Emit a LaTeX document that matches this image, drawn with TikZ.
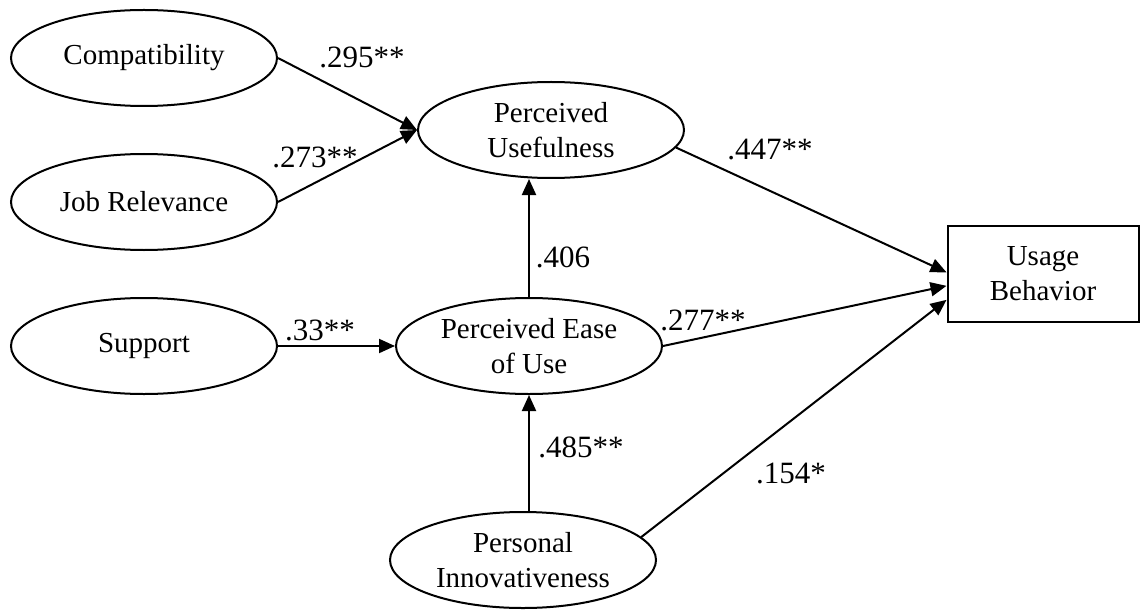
\documentclass[tikz,border=0pt]{standalone}
\usepackage{fontspec}
\setmainfont{Liberation Serif}
\usepackage{tikz}
\usetikzlibrary{shapes,arrows.meta}
\newcommand{\boxfont}{\fontsize{14.5}{17.5}\selectfont}
\newcommand{\pathfont}{\fontsize{15.5}{18}\selectfont}
\tikzstyle{latent} = [ellipse, draw, line width=1pt, minimum width=133pt,
    minimum height=48pt, inner sep=0pt, align=center, font=\boxfont]
\tikzstyle{observed} = [rectangle, draw, line width=1pt, minimum width=95.5pt,
    minimum height=48pt, inner sep=0pt, align=center, font=\boxfont]
\tikzstyle{line} = [draw, line width=1pt, -{Triangle[length=8pt,width=7pt]}]
\tikzstyle{coef} = [inner sep=0pt, font=\pathfont]

\begin{document}
\begin{tikzpicture}[x=0.5pt, y=-0.5pt, node distance=72pt]
  \useasboundingbox (0,0) rectangle (1143,609);
  % Place nodes
  \node [latent] (compat) at (144,58) {Compatibility};
  \node [latent, below of=compat] (jobrel) {Job Relevance};
  \node [latent, below of=jobrel] (support) {Support};
  \node [latent] (pu) at (551,130) {Perceived\\Usefulness};
  \node [latent] (peou) at (529,346) {Perceived Ease\\of Use};
  \node [latent] (pi) at (523,560) {Personal\\Innovativeness};
  \node [observed] (ub) at (1043,274) {Usage\\Behavior};
  % Draw edges
  \path [line] (compat.east) -- (pu.west);
  \path [line] (jobrel.east) -- (pu.west);
  \path [line] (support.east) -- (peou.west);
  \path [line] (peou.north) -- (peou.north |- pu.south);
  \path [line] (peou.south |- pi.north) -- (peou.south);
  \path [line] (pu.-8) -- (ub.179);
  \path [line] (peou.east) -- (ub.187);
  \path [line] (pi.11) -- (ub.195);
  % Coefficients
  \node [coef] (c1) at (362,57) {.295**};
  \node [coef] (c2) at (315,157) {.273**};
  \node [coef] (c3) at (563,257) {.406};
  \node [coef] (c4) at (320,330) {.33**};
  \node [coef] (c5) at (581,447) {.485**};
  \node [coef] (c6) at (770,150) {.447**};
  \node [coef] (c7) at (703,320) {.277**};
  \node [coef] (c8) at (791,473) {.154*};
\end{tikzpicture}
\end{document}
